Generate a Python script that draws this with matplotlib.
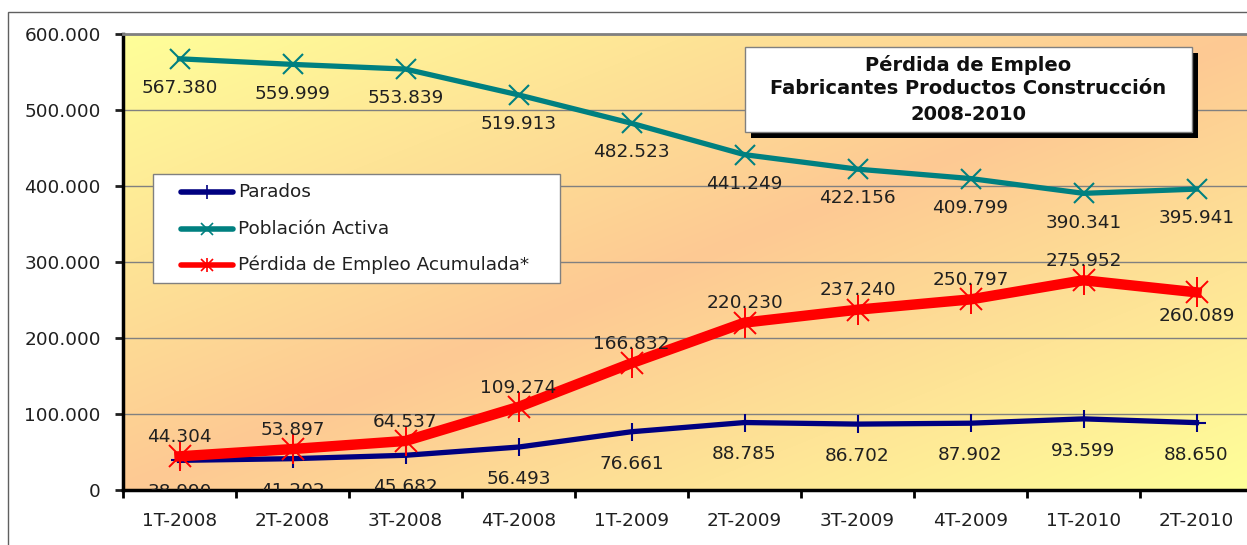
import numpy as np
import matplotlib.pyplot as plt
from matplotlib.colors import to_rgb
from matplotlib.patches import Rectangle
from matplotlib.lines import Line2D
from matplotlib.ticker import FuncFormatter

# quarters and the three series
quarters = ["1T-2008", "2T-2008", "3T-2008", "4T-2008", "1T-2009",
            "2T-2009", "3T-2009", "4T-2009", "1T-2010", "2T-2010"]
parados = [38990, 41202, 45682, 56493, 76661, 88785, 86702, 87902, 93599, 88650]
poblacion = [567380, 559999, 553839, 519913, 482523, 441249, 422156, 409799, 390341, 395941]
perdida = [44304, 53897, 64537, 109274, 166832, 220230, 237240, 250797, 275952, 260089]
series_names = ['Parados', 'Población Activa', 'Pérdida de Empleo Acumulada*']

def miles(v, pos=None):
    # spanish style thousands separator
    return f"{int(v):,}".replace(",", ".")

W, H = 1247, 545
fig = plt.figure(figsize=(W / 100, H / 100), dpi=100)
plt.rcParams['font.family'] = ['DejaVu Sans']
tc = '#202020'

def fx(px):
    return px / W

def fy(py):
    return 1 - py / H

# outer chart border
fig.patches.append(Rectangle((fx(8), -0.1), 1.2, fy(12) + 0.1, transform=fig.transFigure,
                             fill=False, edgecolor='#606060', linewidth=1))

ax = fig.add_axes([fx(123), 55 / H, 1130 / W, 456 / H])
x = np.arange(len(quarters))

# diagonal yellow -> peach -> yellow background
u, v = np.meshgrid(np.linspace(0, 1, 300), np.linspace(1, 0, 200))
t = (u + (1 - v)) / 2
k = 1 - np.abs(2 * t - 1)
yel = np.array(to_rgb('#FFFF99'))
ora = np.array(to_rgb('#FDC993'))
img = yel[None, None, :] + (ora - yel)[None, None, :] * k[..., None]
ax.imshow(img, extent=(-0.5, 9.5, 0, 600000), aspect='auto', zorder=0, interpolation='bilinear')

ax.set_xlim(-0.5, 9.5)
ax.set_ylim(0, 600000)

for yv in range(100000, 600001, 100000):
    ax.axhline(yv, color='#808080', linewidth=1, zorder=1)

ax.plot(x, parados, color='#000080', linewidth=3.8, marker='+', markersize=13,
        markeredgewidth=1.5, zorder=3)
ax.plot(x, poblacion, color='#008080', linewidth=3.8, marker='x', markersize=14,
        markeredgewidth=1.5, zorder=3)
ax.plot(x, perdida, color='#FF0000', linewidth=7.5, marker='x', markersize=16,
        markeredgewidth=1.4, zorder=4)
ax.plot(x, perdida, color='#FF0000', linestyle='none', marker='|', markersize=22,
        markeredgewidth=1.4, zorder=4)

fs = 13.3
for i in range(len(x)):
    ax.annotate(miles(parados[i]), (x[i], parados[i]), xytext=(0, -23), textcoords='offset points',
                ha='center', va='center', fontsize=fs, color=tc, zorder=5, clip_on=True)
    ax.annotate(miles(poblacion[i]), (x[i], poblacion[i]), xytext=(0, -21), textcoords='offset points',
                ha='center', va='center', fontsize=fs, color=tc, zorder=5)
    off = -17 if i == len(x) - 1 else 14
    ax.annotate(miles(perdida[i]), (x[i], perdida[i]), xytext=(0, off), textcoords='offset points',
                ha='center', va='center', fontsize=fs, color=tc, zorder=5)

# axes styling
ax.spines['right'].set_visible(False)
ax.spines['top'].set_color('#808080')
ax.spines['top'].set_linewidth(2)
ax.spines['left'].set_linewidth(2.5)
ax.spines['bottom'].set_linewidth(2.5)

ax.set_yticks(range(0, 600001, 100000))
ax.yaxis.set_major_formatter(FuncFormatter(miles))
ax.tick_params(axis='y', direction='out', length=6, width=2, labelsize=fs, pad=10, colors=tc)
ax.set_xticks(np.arange(-0.5, 10, 1))
ax.set_xticklabels([])
ax.set_xticks(x, minor=True)
ax.set_xticklabels(quarters, minor=True)
ax.tick_params(axis='x', which='major', direction='out', length=6, width=2)
ax.tick_params(axis='x', which='minor', length=0, labelsize=fs, pad=16, colors=tc)

# legend box drawn by hand
fig.patches.append(Rectangle((fx(153), fy(283)), 407 / W, 109 / H, transform=fig.transFigure,
                             facecolor='white', edgecolor='#808080', linewidth=1, zorder=6))
leg_style = [
    dict(color='#000080', marker='+', markersize=10, markeredgewidth=1.2),
    dict(color='#008080', marker='x', markersize=8, markeredgewidth=1.2),
    dict(color='#FF0000', marker='x', markersize=8, markeredgewidth=1.2),
]
for j, (name, st) in enumerate(zip(series_names, leg_style)):
    yy = fy(192 + j * 36.5)
    fig.add_artist(Line2D([fx(181), fx(233)], [yy, yy], transform=fig.transFigure,
                          linewidth=4, solid_capstyle='round', zorder=7, color=st['color']))
    fig.add_artist(Line2D([fx(207)], [yy], transform=fig.transFigure, linestyle='none', zorder=7, **st))
    if j == 2:
        fig.add_artist(Line2D([fx(207)], [yy], transform=fig.transFigure, linestyle='none', zorder=7,
                              color='#FF0000', marker='|', markersize=10, markeredgewidth=1.2))
    fig.text(fx(238), yy, name, ha='left', va='center', fontsize=13.3, color=tc, zorder=8)

# title box with black shadow
fig.patches.append(Rectangle((fx(751), fy(138)), 447 / W, 85 / H, transform=fig.transFigure,
                             facecolor='black', edgecolor='none', zorder=7))
fig.patches.append(Rectangle((fx(745), fy(132)), 447 / W, 85 / H, transform=fig.transFigure,
                             facecolor='white', edgecolor='#808080', linewidth=1, zorder=8))
for txt, yy in [("Pérdida de Empleo", 65), ("Fabricantes Productos Construcción", 89), ("2008-2010", 114)]:
    fig.text(fx(968), fy(yy), txt, ha='center', va='center', fontsize=14, fontweight='bold',
             color='#101010', zorder=9)

fig.savefig('out.png', dpi=100)
